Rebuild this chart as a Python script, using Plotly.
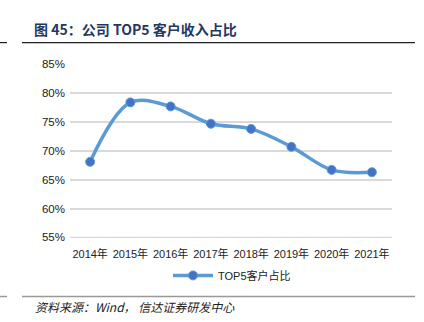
import plotly.graph_objects as go

categories = ["2014年", "2015年", "2016年", "2017年", "2018年", "2019年", "2020年", "2021年"]
values = [68.1, 78.4, 77.7, 74.7, 73.8, 70.7, 66.7, 66.3]
tick_vals = [55, 60, 65, 70, 75, 80, 85]
tick_text = ["55%", "60%", "65%", "70%", "75%", "80%", "85%"]
series_name = "TOP5客户占比"

W, H = 424, 322
L, R = 70, 392
T, B = 64.3, 237.7

def px(x):
    return (x - L) / (R - L)

def py(y):
    return (B - y) / (B - T)

fig = go.Figure()
fig.add_trace(go.Scatter(
    x=categories, y=values, name=series_name, mode="lines+markers",
    line=dict(color="#5b9bd5", width=3.5, shape="spline", smoothing=1.0),
    marker=dict(color="#4472c4", size=9, line=dict(color="#5b9bd5", width=1)),
))

fig.update_layout(
    width=W, height=H,
    margin=dict(l=L, r=W - R, t=T, b=H - B),
    paper_bgcolor="white", plot_bgcolor="white",
    font=dict(family="Liberation Sans, Noto Sans CJK SC", size=11, color="#222"),
    showlegend=True,
    legend=dict(orientation="h", x=px(232), xanchor="center", y=py(275), yanchor="middle",
                font=dict(size=11, family="Liberation Sans, Noto Sans CJK SC"),
                itemwidth=40),
    xaxis=dict(type="category", showgrid=False, showline=False, ticks="",
               tickfont=dict(size=11), range=[-0.5, 7.5], ticklabelstandoff=8),
    yaxis=dict(range=[54.9, 85.05], tickvals=tick_vals, ticktext=tick_text,
               showgrid=True, gridcolor="#d9d9d9", gridwidth=1.5, zeroline=False,
               showline=False, ticks="", ticklen=0, tickfont=dict(size=11.5),
               ticklabelstandoff=4),
    shapes=[
        dict(type="line", xref="paper", yref="y", x0=0, x1=1, y0=tick_vals[0], y1=tick_vals[0],
             line=dict(color="#d9d9d9", width=1.5), layer="below"),
        dict(type="line", xref="paper", yref="paper", x0=px(22), x1=px(415), y0=py(43), y1=py(43),
             line=dict(color="#222", width=1.2)),
        dict(type="line", xref="paper", yref="paper", x0=px(0), x1=px(7), y0=py(43), y1=py(43),
             line=dict(color="#222", width=1.2)),
        dict(type="line", xref="paper", yref="paper", x0=px(22), x1=px(415), y0=py(296), y1=py(296),
             line=dict(color="#999", width=1.5)),
        dict(type="line", xref="paper", yref="paper", x0=px(0), x1=px(7), y0=py(296), y1=py(296),
             line=dict(color="#999", width=1.5)),
    ],
    annotations=[
        dict(text="<b>图 45：公司 TOP5 客户收入占比</b>", xref="paper", yref="paper",
             x=px(32), y=py(29), xanchor="left", yanchor="middle", showarrow=False,
             font=dict(size=14, color="#1f3864", family="Noto Sans CJK SC")),
        dict(text="<i>资料来源：Wind， 信达证券研发中心</i>", xref="paper", yref="paper",
             x=px(33), y=py(306), xanchor="left", yanchor="middle", showarrow=False,
             font=dict(size=12, color="#222", family="Noto Sans CJK SC")),
    ],
)

fig.write_html("out.html")
